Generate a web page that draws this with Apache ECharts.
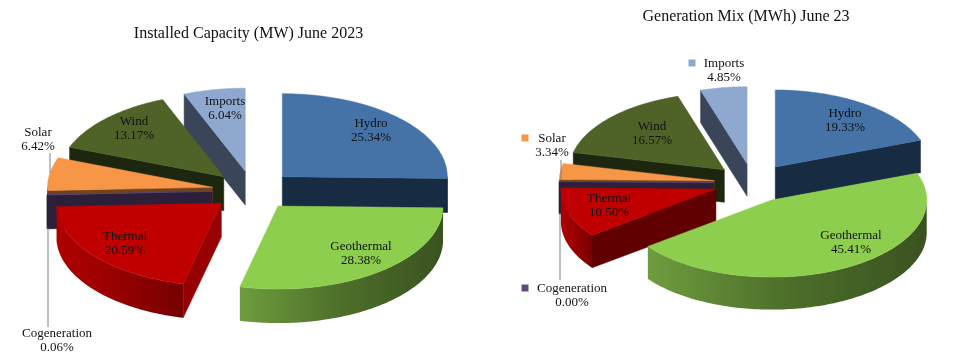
<!DOCTYPE html>
<html><head><meta charset="utf-8">
<style>html,body{margin:0;padding:0;background:#fff}#c{width:960px;height:356px}</style>
<script src="https://cdn.jsdelivr.net/npm/echarts@6/dist/echarts.min.js"></script>
</head><body><div id="c"></div>
<script>
const categories = ['Hydro','Geothermal','Thermal','Cogeneration','Solar','Wind','Imports'];
const capacityShare = [25.34,28.38,20.59,0.06,6.42,13.17,6.04];
const generationShare = [19.33,45.41,10.50,0.00,3.34,16.57,4.85];
const capacityTitle = 'Installed Capacity (MW) June 2023';
const generationTitle = 'Generation Mix (MWh) June 23';

const FONT = '"Liberation Serif", serif';
const topColors = ['#4572a7','#8dce4e','#c00000','#604a7b','#f79646','#4f6228','#8fa8d0'];
const wallColors = ['#172b43','#3c5220','#8c0000','#2b1f3a','#6e4320','#1d260e','#3b4559'];
const rimGradients = {1:['#6f9c3e','#4d6f2a','#3b5220'], 2:['#b00000','#960000','#760000']};
const paintOrder = [6,5,0,4,3,2,1];

const capacityLayout = {
  cx:253, cy:190.5, rx:165, ry:83, explodeX:41, explodeY:19.7, depth:34,
  thermalWall:'#960000',
  labels:[[371,131],[361,254],[125,244],[57,341],[38,140],[134,129],[225,109]],
  leaders:[[[50,153],[50,173]],[[48,228],[48,327]]],
  markers:[]
};
const generationLayout = {
  cx:753, cy:183, rx:155, ry:77, explodeX:39, explodeY:19.5, depth:32.5,
  thermalWall:'#600000',
  labels:[[845,121],[851,243],[609,206],[572,296],[552,146],[652,134],[724,71]],
  leaders:[[[561,160],[561,180]],[[560,213],[560,280]]],
  markers:[[3,525,288],[4,525,138],[6,692,63]]
};

function makeSeries(values, L){
  const starts=[]; let run=0;
  values.forEach(v=>{starts.push(run); run+=v;});
  const total=run;
  const rad=p=>p/total*2*Math.PI;
  return {
    type:'custom', coordinateSystem:'none', silent:true, animation:false,
    data:values.map(v=>[v]),
    renderItem(params, api){
      const i=params.dataIndex, v=api.value(0);
      const a=rad(starts[i]), b=rad(starts[i]+v), m=(a+b)/2;
      const ax=L.cx+L.explodeX*Math.sin(m), ay=L.cy-L.explodeY*Math.cos(m);
      const pt=t=>[ax+L.rx*Math.sin(t), ay-L.ry*Math.cos(t)];
      const base=paintOrder.indexOf(i)*10;
      const kids=[];
      const wall=(pts,fill,z)=>kids.push({type:'polygon',z2:base+z,shape:{points:pts},
        style:{fill,stroke:typeof fill==='string'?fill:null,lineWidth:typeof fill==='string'?0.5:0}});
      const down=p=>[p[0],p[1]+L.depth];
      const wc=i===2?L.thermalWall:wallColors[i];
      if(Math.sin(a)<0) wall([[ax,ay],pt(a),down(pt(a)),[ax,ay+L.depth]],wc,1);
      if(Math.sin(b)>0) wall([[ax,ay],pt(b),down(pt(b)),[ax,ay+L.depth]],wc,1);
      const from=Math.max(a,Math.PI/2), to=Math.min(b,Math.PI*1.5);
      if(to>from){
        const n=Math.max(2,Math.ceil((to-from)/0.02)), up=[], lo=[];
        for(let k=0;k<=n;k++){const p=pt(from+(to-from)*k/n); up.push(p); lo.unshift(down(p));}
        const g=rimGradients[i];
        const fill=g&&n>10?new echarts.graphic.LinearGradient(0,0,1,0,[
          {offset:0,color:g[0]},{offset:0.5,color:g[1]},{offset:1,color:g[2]}]):wc;
        wall(up.concat(lo),fill,2);
      }
      const n=Math.max(2,Math.ceil((b-a)/0.02)), face=[[ax,ay]];
      for(let k=0;k<=n;k++) face.push(pt(a+(b-a)*k/n));
      kids.push({type:'polygon',z2:base+3,shape:{points:face},
        style:{fill:topColors[i],stroke:topColors[i],lineWidth:0.5}});
      const lab=L.labels[i];
      kids.push({type:'text',z2:200,style:{
        text:categories[i]+'\n'+v.toFixed(2)+'%',x:lab[0],y:lab[1],
        textAlign:'center',textVerticalAlign:'middle',
        font:'13px '+FONT,lineHeight:14,fill:'#111'}});
      L.markers.filter(q=>q[0]===i).forEach(q=>kids.push({type:'rect',z2:200,
        shape:{x:q[1]-3.5,y:q[2]-3.5,width:7,height:7},style:{fill:topColors[i]}}));
      if(i===0) L.leaders.forEach(s=>kids.push({type:'line',z2:190,
        shape:{x1:s[0][0],y1:s[0][1],x2:s[1][0],y2:s[1][1]},style:{stroke:'#808080',lineWidth:1}}));
      return {type:'group',children:kids};
    }
  };
}

const chart=echarts.init(document.getElementById('c'),null,{renderer:'canvas'});
chart.setOption({
  backgroundColor:'#fff',
  animation:false,
  title:[
    {text:capacityTitle,left:243.5,top:21,textAlign:'center',textStyle:{fontFamily:FONT,fontSize:16,fontWeight:'normal',color:'#111'}},
    {text:generationTitle,left:741,top:4,textAlign:'center',textStyle:{fontFamily:FONT,fontSize:16,fontWeight:'normal',color:'#111'}}
  ],
  series:[makeSeries(capacityShare,capacityLayout),makeSeries(generationShare,generationLayout)]
});
</script></body></html>
